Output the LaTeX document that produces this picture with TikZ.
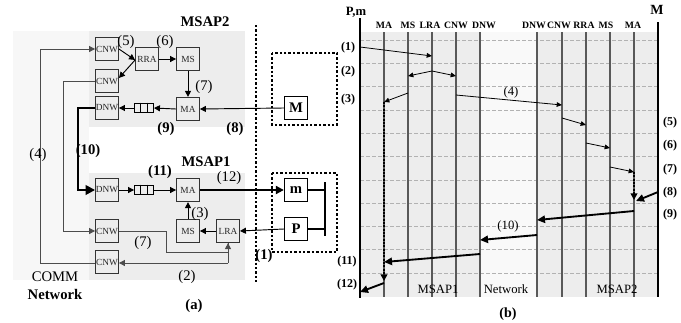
\documentclass[tikz,border=0pt]{standalone}
\usepackage{fontspec}
\setmainfont{Liberation Serif}
\usetikzlibrary{arrows.meta,calc}
\begin{document}
\begin{tikzpicture}[x=0.75pt,y=-0.75pt,
  comp/.style={draw=black!80, line width=0.65pt, minimum width=17.25pt, minimum height=17.5pt, inner sep=0pt, font=\fontsize{7}{8}\selectfont, text=black!85},
  ent/.style={draw, line width=1pt, fill=white, minimum width=17.25pt, minimum height=17.25pt, inner sep=0pt, font=\fontsize{11}{12}\selectfont\bfseries},
  queue/.style={draw, line width=0.9pt, minimum width=14pt, minimum height=7pt, inner sep=0pt},
  arr/.style={-{Triangle[length=4.5pt,width=4.5pt]}, line width=0.7pt},
  garr/.style={-{Triangle[length=4.5pt,width=4.5pt]}, line width=0.7pt, draw=black!70},
  gline/.style={line width=0.7pt, draw=black!70},
  bigarr/.style={-{Triangle[length=7pt,width=7pt]}, line width=2pt},
  dots/.style={line width=2.2pt, dash pattern=on 1.8pt off 1.5pt},
  lbl/.style={font=\fontsize{11}{12}\selectfont, inner sep=0pt},
  blbl/.style={font=\fontsize{11}{12}\selectfont\bfseries, inner sep=0pt},
  seqlbl/.style={font=\fontsize{9}{10}\selectfont\bfseries, inner sep=0pt},
  collbl/.style={font=\fontsize{7.3}{8}\selectfont\bfseries, inner sep=0pt},
  txt/.style={font=\fontsize{9.5}{10}\selectfont, inner sep=0pt},
  msg/.style={-{Triangle[length=4pt,width=3.5pt]}, line width=0.6pt},
  tmsg/.style={-{Triangle[length=6pt,width=5.5pt]}, line width=1.4pt},
  life/.style={line width=0.8pt, draw=black!65},
  grid/.style={line width=0.4pt, draw=black!30, dash pattern=on 3pt off 1.5pt}
]
\useasboundingbox (0,0) rectangle (681,322);

% ---------- panel (a) backgrounds ----------
\fill[gray!6] (13,31) rectangle (89,280);
\fill[gray!14] (89,31) rectangle (245,127);
\fill[gray!14] (89,173) rectangle (245,280);

% dotted separator
\draw[dots] (256,25) -- (256,282);
\draw[dots] (272,53) rectangle (337,125);
\draw[dots] (272,173) rectangle (337,252);

% titles
\node[blbl] (t2) at (205,22) {MSAP2};
\node[blbl] (t1) at (206,162) {MSAP1};

% MSAP2 components
\node[comp] (cnwA) at (107,49) {CNW};
\node[comp] (cnwB) at (107,81) {CNW};
\node[comp] (rra) at (147,59) {RRA};
\node[comp] (ms2) at (188,59) {MS};
\node[comp] (ma2) at (188,109) {MA};
\node[comp] (dnw2) at (107,108) {DNW};
\node[queue] (q2) at (144,108) {};

% MSAP1 components
\node[comp] (dnw1) at (107,190) {DNW};
\node[queue] (q1) at (144,190) {};
\node[comp] (ma1) at (188,190) {MA};
\node[comp] (cnw1) at (107,231) {CNW};
\node[comp] (ms1) at (188,231) {MS};
\node[comp] (lra) at (228,231) {LRA};
\node[comp] (cnw0) at (107,262) {CNW};

% queue cells
\foreach \q in {q1,q2}{
  \draw[line width=0.9pt] ($(\q.north west)!1/3!(\q.north east)$) -- ($(\q.south west)!1/3!(\q.south east)$);
  \draw[line width=0.9pt] ($(\q.north west)!2/3!(\q.north east)$) -- ($(\q.south west)!2/3!(\q.south east)$);
}

% mobile entities
\node[ent] (M) at (296,108) {M};
\node[ent] (m) at (296,190) {m};
\node[ent] (P) at (296,229) {P};
\coordinate (bar) at (325,190);
\draw[line width=2pt] (325,182) -- (325,236);
\draw[line width=2pt] (m.east) -- (m.east -| bar);
\draw[line width=2pt] (P.east) -- (P.east -| bar);

% MSAP2 connections
\draw[arr] (M.west) -- (ma2.east);
\draw[arr] (ma2.west) -- (q2.east);
\draw[arr] (q2.west) -- (dnw2.east);
\draw[arr] (ms2.south) -- (ma2.north);
\draw[arr] (rra.east) -- (ms2.west);
\draw[arr] (cnwA.east) -- ($(rra.west)+(0,1)$);
\draw[arr] ($(rra.west)+(0,1)$) -- ($(cnwB.east)+(0,-3)$);

% MSAP1 connections
\draw[arr] (dnw1.east) -- (q1.west);
\draw[arr] (q1.east) -- (ma1.west);
\draw[arr] (ms1.north) -- (ma1.south);
\draw[arr] (lra.west) -- (ms1.east);
\draw[arr] (P.west) -- (lra.east);
\draw[-{Triangle[length=6pt,width=6pt]}, line width=1.6pt] (ma1.east) -- (m.west);

% network paths
\draw[gline] (lra.south) -- (228,263);
\draw[garr] (228,263) -- (cnw0.east |- 0,263);
\draw[gline] (cnw0.west |- 0,263) -- (40,263) -- (40,49);
\draw[garr] (40,49) -- (cnwA.west);
\draw[gline] (cnwB.west) -- (63,81) -- (63,231);
\draw[garr] (63,231) -- (cnw1.west);
\draw[gline] (cnw1.east) -- (166,231) -- (166,252) -- (228,252);
\draw[garr] (228,252) -- (lra.south);
\draw[bigarr] (dnw2.west) -- (78,108) -- (78,190) -- (dnw1.west);

% labels panel (a)
\node[lbl] (l5) at (126,42) {(5)};
\node[lbl] (l6) at (165,42) {(6)};
\node[lbl] (l7a) at (204,87) {(7)};
\node[blbl] (l9) at (166,129) {(9)};
\node[blbl] (l8) at (235,129) {(8)};
\node[blbl] (l10) at (88,151) {(10)};
\node[blbl] (l11) at (160,172) {(11)};
\node[lbl] (l12) at (229,178) {(12)};
\node[lbl] (l3) at (200,214) {(3)};
\node[lbl] (l7b) at (143,243) {(7)};
\node[lbl] (l2) at (187,277) {(2)};
\node[lbl] (l4) at (38,155) {(4)};
\node[blbl] (l1) at (264,256) {(1)};
\node[lbl] (comm) at (55,277) {COMM};
\node[blbl] (net) at (55,294) {Network};
\node[blbl] (pa) at (194,306) {(a)};

% ---------- panel (b) ----------
\fill[gray!14] (360,32) rectangle (658,297);
\fill[gray!5] (480,32) rectangle (537,297);
\foreach \k in {0,...,10}{
  \draw[grid] (360,{40+23.3*\k}) -- (658,{40+23.3*\k});
}
\foreach \xx in {384,408,432,456,480,537,562,586,610,634}{
  \draw[life] (\xx,32) -- (\xx,297);
}
\draw[line width=0.9pt] (360,18) -- (360,298);
\draw[line width=0.9pt] (658,22) -- (658,297);

\node[seqlbl, font=\fontsize{9.5}{10}\selectfont\bfseries] (pm) at (356,12) {P,m};
\node[seqlbl, font=\fontsize{10.5}{11}\selectfont\bfseries] (Mb) at (657,10) {M};
\node[collbl] (cMA) at (384,25) {MA};
\node[collbl] (cMS) at (408,25) {MS};
\node[collbl] (cLRA) at (430,25) {LRA};
\node[collbl] (cCNW) at (456,25) {CNW};
\node[collbl] (cDNW) at (484,25) {DNW};
\node[collbl] (cDNW2) at (534,25) {DNW};
\node[collbl] (cCNW2) at (559,25) {CNW};
\node[collbl] (cRRA) at (584,25) {RRA};
\node[collbl] (cMS2) at (606,25) {MS};
\node[collbl] (cMA2) at (633,25) {MA};

% message coordinates
\coordinate (a1) at (360,47);  \coordinate (b1) at (432,56);
\coordinate (a2) at (432,71);  \coordinate (b2l) at (408,76); \coordinate (b2r) at (456,76);
\coordinate (a3) at (408,93);  \coordinate (b3) at (384,102);
\coordinate (e3) at (384,281);
\coordinate (a4) at (456,95);  \coordinate (b4) at (562,105);
\coordinate (a5) at (562,118); \coordinate (b5) at (586,125);
\coordinate (a6) at (586,143); \coordinate (b6) at (610,148);
\coordinate (a7) at (610,167); \coordinate (b7) at (634,172);
\coordinate (e7) at (634,200);
\coordinate (a8) at (658,192); \coordinate (b8) at (636,201);
\coordinate (a9) at (634,211); \coordinate (b9) at (537,220);
\coordinate (a10) at (537,235); \coordinate (b10) at (480,240);
\coordinate (a11) at (480,254); \coordinate (b11) at (384,262);
\coordinate (a12) at (384,283); \coordinate (b12) at (360,292);

\draw[msg] (a1) -- (b1);
\draw[msg] (a2) -- (b2l);
\draw[msg] (a2) -- (b2r);
\draw[msg] (a3) -- (b3);
\draw[-{Triangle[length=5pt,width=5pt]}, line width=1.5pt, dash pattern=on 1.4pt off 1.1pt] (b3) -- (e3);
\draw[msg] (a4) -- (b4);
\draw[msg] (a5) -- (b5);
\draw[msg] (a6) -- (b6);
\draw[msg] (a7) -- (b7);
\draw[-{Triangle[length=5pt,width=5pt]}, line width=1.5pt, dash pattern=on 1.4pt off 1.1pt] (b7) -- (e7);
\draw[tmsg] (a8) -- (b8);
\draw[tmsg] (a9) -- (b9);
\draw[tmsg] (a10) -- (b10);
\draw[tmsg] (a11) -- (b11);
\draw[tmsg] (a12) -- (b12);

\node[txt] (m4) at (511,92) {(4)};
\node[txt] (m10) at (508,226) {(10)};

\node[seqlbl] (s1) at (348,48) {(1)};
\node[seqlbl] (s2) at (348,72) {(2)};
\node[seqlbl] (s3) at (348,100) {(3)};
\node[seqlbl] (s11) at (347,262) {(11)};
\node[seqlbl] (s12) at (347,285) {(12)};
\node[seqlbl] (s5) at (670,123) {(5)};
\node[seqlbl] (s6) at (670,146) {(6)};
\node[seqlbl] (s7) at (670,170) {(7)};
\node[seqlbl] (s8) at (670,193) {(8)};
\node[seqlbl] (s9) at (670,215) {(9)};

\node[txt] (bm1) at (438,289) {MSAP1};
\node[txt] (bnet) at (506,289) {Network};
\node[txt] (bm2) at (617,289) {MSAP2};
\node[font=\fontsize{10.5}{11}\selectfont\bfseries, inner sep=0pt] (pb) at (508,314) {(b)};
\end{tikzpicture}
\end{document}
